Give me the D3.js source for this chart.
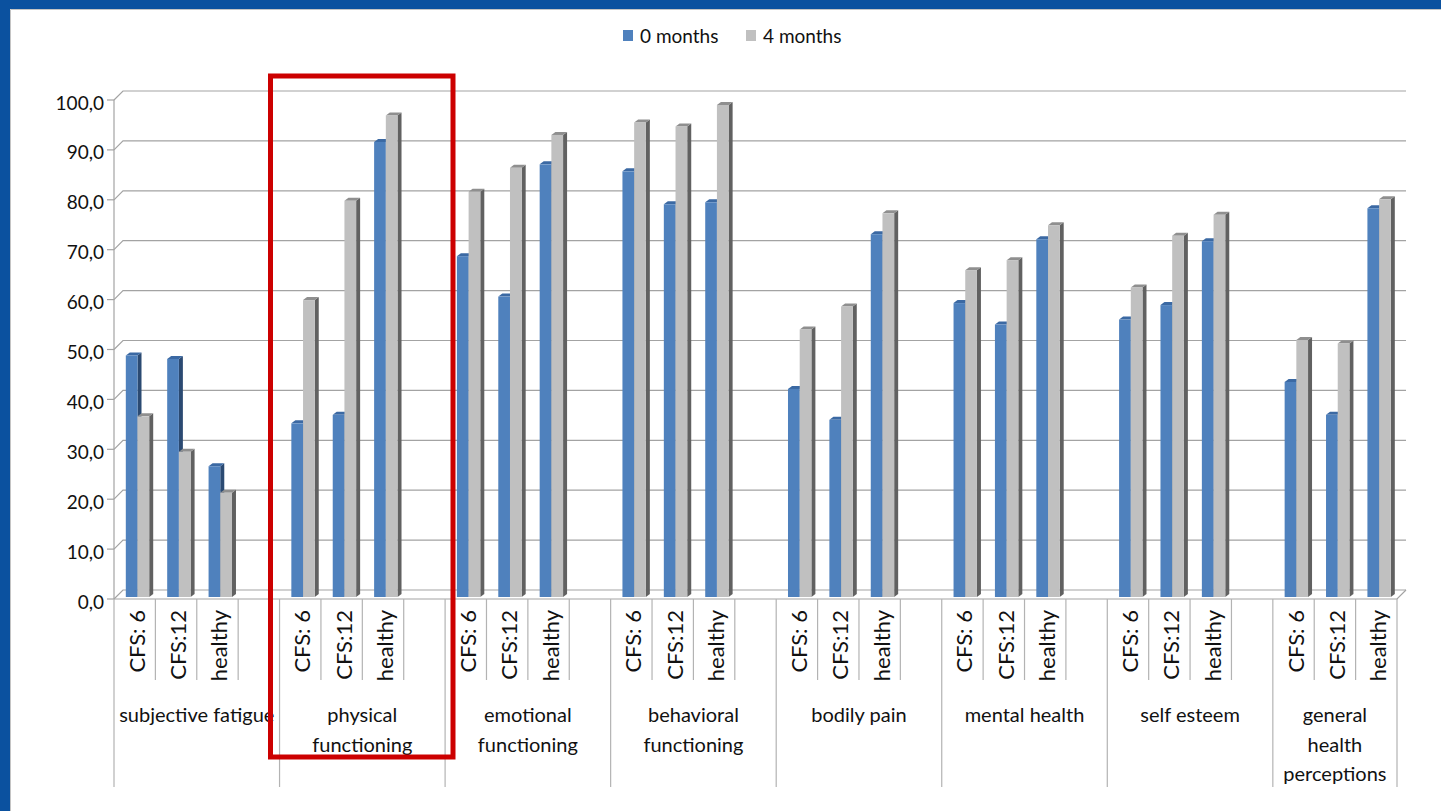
<!DOCTYPE html>
<html>
<head>
<meta charset="utf-8">
<script src="https://cdn.jsdelivr.net/npm/d3@7"></script>
<style>
  body { margin: 0; background: #fff; }
  svg { display: block; font-family: Lato, "Open Sans", sans-serif; }
</style>
</head>
<body>
<svg></svg>
<script>
// groups on the category axis, with the way their labels wrap
const groups = ["subjective fatigue", "physical functioning", "emotional functioning", "behavioral functioning",
    "bodily pain", "mental health", "self esteem", "general health perceptions"];
const groupLines = [["subjective fatigue"], ["physical", "functioning"], ["emotional", "functioning"],
    ["behavioral", "functioning"], ["bodily pain"], ["mental health"], ["self esteem"],
    ["general", "health", "perceptions"]];
const subcats = ["CFS: 6", "CFS:12", "healthy"];
const seriesNames = ["0 months", "4 months"];

// values per group, in order CFS: 6, CFS:12, healthy
const months0 = [48.4, 47.7, 26.2, 34.8, 36.5, 91.2, 68.3, 60.2, 86.7, 85.3, 78.7, 79.1,
    41.7, 35.5, 72.7, 58.9, 54.6, 71.7, 55.6, 58.5, 71.3, 43.1, 36.5, 77.9];
const months4 = [36.2, 29.1, 20.9, 59.5, 79.4, 96.5, 81.2, 86.0, 92.6, 95.1, 94.3, 98.6,
    53.6, 58.2, 76.9, 65.5, 67.5, 74.5, 62.0, 72.4, 76.6, 51.5, 50.8, 79.7];
const yTicks = [0, 10, 20, 30, 40, 50, 60, 70, 80, 90, 100];

const width = 1441;
const height = 811;

const svg = d3.select("svg")
    .attr("width", width)
    .attr("height", height);

// blue frame of the slide
svg.append("rect").attr("x", 0).attr("y", 0).attr("width", width).attr("height", 9).attr("fill", "#0B519F");
svg.append("rect").attr("x", 0).attr("y", 0).attr("width", 10).attr("height", height).attr("fill", "#0B519F");
svg.append("path").attr("d", `M10.5,${height} V9.5 H${width}`).attr("stroke", "#c4c4c4").attr("fill", "none");

// one slot per bar pair, and an empty slot between groups
const slots = [];
groups.forEach((g, gi) => {
    subcats.forEach(s => slots.push(g + "|" + s));
    if (gi < groups.length - 1) slots.push(g + "|");
});

const x = d3.scaleBand().domain(slots).range([114, 1397]);
const y = d3.scaleLinear().domain([0, 100]).range([599, 100]);
const dx = 9, dy = 9;      // depth of the back wall
const fmt = v => d3.format(".1f")(v).replace(".", ",");

// back wall gridlines
const grid = svg.append("g").attr("stroke", "#a3a3a3").attr("fill", "none").attr("stroke-width", 1.2);
yTicks.forEach(t => {
    grid.append("path").attr("d", `M114,${y(t)} L${114 + dx},${y(t) - dy} H${1397 + dx}`);
    grid.append("line").attr("x1", 107).attr("x2", 114).attr("y1", y(t)).attr("y2", y(t));
});
grid.append("line").attr("x1", 114).attr("x2", 114).attr("y1", y(0)).attr("y2", y(100));
grid.append("path").attr("d", `M114,${y(0)} H1397 L${1397 + dx},${y(0) - dy}`);

svg.append("g")
    .selectAll("text")
    .data(yTicks)
    .enter().append("text")
    .attr("x", 104)
    .attr("y", d => y(d) + 9.5)
    .attr("text-anchor", "end")
    .attr("font-size", 19)
    .attr("fill", "#111")
    .text(fmt);

// bars
const rows = [];
groups.forEach((g, gi) => {
    subcats.forEach((s, si) => {
        rows.push({ key: g + "|" + s, sub: s, v0: months0[gi * 3 + si], v4: months4[gi * 3 + si] });
    });
});

const barW = 11.7, barOff = 11.8, bdx = 4, bdy = 3, base = 597;
const colors = [
    { front: "#4F81BD", top: "#3B69A3", side: "#2B4A72" },
    { front: "#C0C0C0", top: "#8F8F8F", side: "#616161" }
];

function drawBar(g, x0, v, c) {
    const top = y(v) - 2;
    g.append("path")
        .attr("d", `M${x0 + barW},${top} L${x0 + barW + bdx},${top - bdy} V${base - bdy} L${x0 + barW},${base} Z`)
        .attr("fill", c.side);
    g.append("path")
        .attr("d", `M${x0},${top} L${x0 + bdx},${top - bdy} H${x0 + barW + bdx} L${x0 + barW},${top} Z`)
        .attr("fill", c.top);
    g.append("rect")
        .attr("x", x0).attr("y", top)
        .attr("width", barW).attr("height", base - top)
        .attr("fill", c.front);
}

const bars = svg.append("g");
rows.forEach(d => {
    const g = bars.append("g");
    const x0 = x(d.key) + barOff;
    drawBar(g, x0, d.v0, colors[0]);
    drawBar(g, x0 + barW, d.v4, colors[1]);
});

// category axis: rotated sub labels
svg.append("g")
    .selectAll("text")
    .data(rows)
    .enter().append("text")
    .attr("transform", d => `translate(${x(d.key) + x.bandwidth() / 2 + 10},610) rotate(-90)`)
    .attr("text-anchor", "end")
    .attr("font-size", 22)
    .attr("fill", "#111")
    .text(d => d.sub);

// separator lines and group labels
const sep = svg.append("g").attr("stroke", "#b3b3b3").attr("stroke-width", 1.2);
const bw = x.bandwidth();
groups.forEach((g, gi) => {
    const start = x(g + "|" + subcats[0]);
    const last = gi === groups.length - 1;
    const end = last ? x(g + "|" + subcats[2]) + bw : x(g + "|") + bw;
    sep.append("line").attr("x1", start).attr("x2", start).attr("y1", 599).attr("y2", 787);
    if (last) sep.append("line").attr("x1", end).attr("x2", end).attr("y1", 599).attr("y2", 787);
    const shorts = [g + "|" + subcats[1], g + "|" + subcats[2]];
    if (!last) shorts.push(g + "|");
    shorts.forEach(k => {
        sep.append("line").attr("x1", x(k)).attr("x2", x(k)).attr("y1", 599).attr("y2", 680);
    });

    svg.append("g")
        .selectAll("text")
        .data(groupLines[gi])
        .enter().append("text")
        .attr("x", (start + end) / 2)
        .attr("y", (d, i) => 722 + i * 29.5)
        .attr("text-anchor", "middle")
        .attr("font-size", 20)
        .attr("fill", "#111")
        .text(d => d);
});

// legend
const legend = svg.append("g");
[623, 746].forEach((lx, i) => {
    legend.append("rect").attr("x", lx).attr("y", 30).attr("width", 10).attr("height", 11).attr("fill", colors[i].front);
    legend.append("text").attr("x", lx + 17).attr("y", 43).attr("font-size", 19).attr("fill", "#111").text(seriesNames[i]);
});

// red highlight box around physical functioning
svg.append("rect")
    .attr("x", 270.5).attr("y", 76)
    .attr("width", 182.5).attr("height", 681)
    .attr("fill", "none")
    .attr("stroke", "#CC0000")
    .attr("stroke-width", 5);
</script>
</body>
</html>
